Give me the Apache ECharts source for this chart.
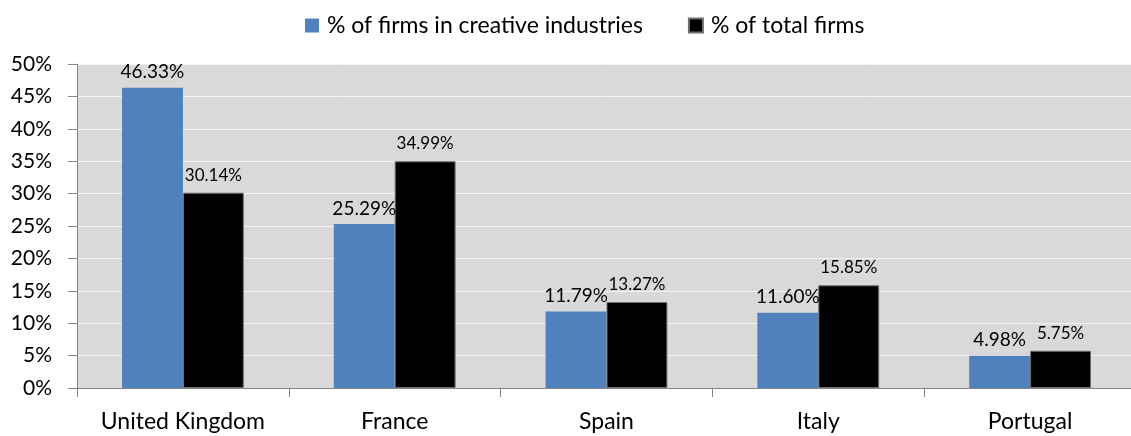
<!DOCTYPE html>
<html>
<head>
<meta charset="utf-8">
<script src="https://cdn.jsdelivr.net/npm/echarts@6/dist/echarts.min.js"></script>
<style>
  html, body { margin: 0; padding: 0; background: #ffffff; }
  #chart { width: 1131px; height: 436px; }
</style>
</head>
<body>
<div id="chart"></div>
<script>
// Share of firms by country (percent)
const countries = ['United Kingdom', 'France', 'Spain', 'Italy', 'Portugal'];
const seriesNames = ['% of firms in creative industries', '% of total firms'];
const creativeShare = [46.33, 25.29, 11.79, 11.60, 4.98];
const totalShare = [30.14, 34.99, 13.27, 15.85, 5.75];

const FONT = 'Lato';
const chart = echarts.init(document.getElementById('chart'), null, { renderer: 'canvas' });

chart.setOption({
  animation: false,
  backgroundColor: '#ffffff',
  textStyle: { fontFamily: FONT, color: '#000000' },
  legend: {
    top: 9,
    left: 300,
    itemWidth: 14,
    itemHeight: 14,
    itemGap: 45,
    icon: 'rect',
    textStyle: { fontFamily: FONT, fontSize: 23, color: '#000000', padding: [0, 0, 0, 3] },
    data: seriesNames
  },
  grid: {
    left: 77,
    width: 1059,
    top: 64,
    bottom: 48,
    outerBoundsMode: 'none',
    containLabel: false,
    show: true,
    backgroundColor: '#d9d9d9',
    borderWidth: 0
  },
  xAxis: {
    type: 'category',
    data: countries,
    axisLine: { show: true, lineStyle: { color: '#868686', width: 1 } },
    axisTick: { show: true, length: 9, alignWithLabel: false, lineStyle: { color: '#868686' } },
    axisLabel: { interval: 0, fontFamily: FONT, fontSize: 23, color: '#000000', margin: 22 },
    splitLine: { show: false }
  },
  yAxis: {
    type: 'value',
    min: 0,
    max: 50,
    interval: 5,
    axisLine: { show: true, lineStyle: { color: '#868686', width: 1 } },
    axisTick: { show: true, length: 9, lineStyle: { color: '#868686' } },
    axisLabel: { fontFamily: FONT, fontSize: 21, color: '#000000', margin: 25, formatter: '{value}%' },
    splitLine: { show: true, lineStyle: { color: '#f4f4f4', width: 1 } }
  },
  series: [
    {
      name: seriesNames[0],
      type: 'bar',
      data: creativeShare,
      barGap: '0%',
      barCategoryGap: '42.5%',
      itemStyle: { color: '#4f81bd' },
      label: {
        show: true,
        position: 'top',
        distance: 6,
        fontFamily: FONT,
        fontSize: 19,
        color: '#000000',
        formatter: p => p.value.toFixed(2) + '%'
      }
    },
    {
      name: seriesNames[1],
      type: 'bar',
      data: totalShare,
      barGap: '0%',
      barCategoryGap: '42.5%',
      itemStyle: { color: '#000000', borderColor: '#6f6f6f', borderWidth: 1 },
      label: {
        show: true,
        position: 'top',
        distance: 9,
        fontFamily: FONT,
        fontSize: 17,
        color: '#000000',
        formatter: p => p.value.toFixed(2) + '%'
      }
    }
  ]
});
</script>
</body>
</html>
